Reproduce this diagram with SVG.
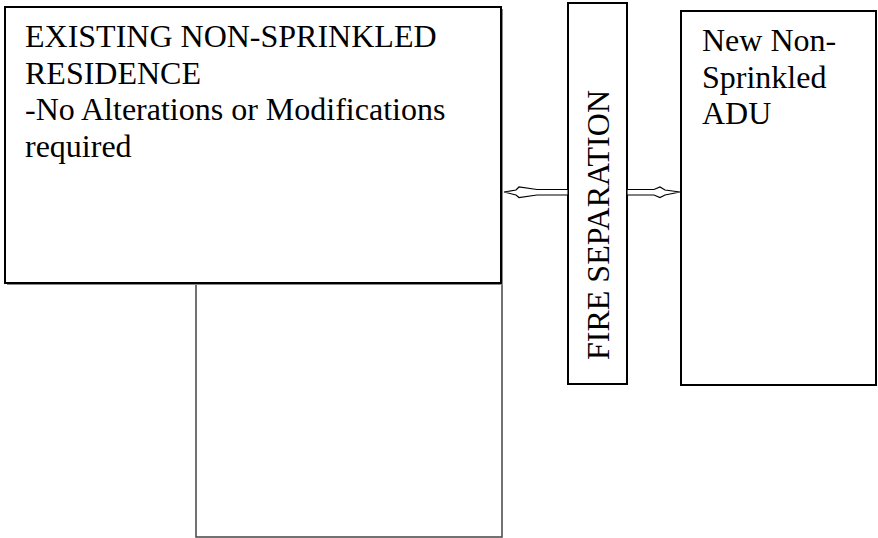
<svg xmlns="http://www.w3.org/2000/svg" width="878" height="538" viewBox="0 0 878 538">
<style>
.box{fill:#fff;stroke:#000;stroke-width:2}
.shadow{fill:#888;stroke:none}
.thin{fill:#fff;stroke:#444;stroke-width:1.5}
.t{font-size:32px;fill:#000}
.arr{fill:#fff;stroke:#000;stroke-width:1.2}
</style>
<rect width="878" height="538" fill="#fff"/>
<g font-family="'Times New Roman', 'Liberation Serif', 'DejaVu Serif', serif">
<g id="lower-box">
<rect class="thin" x="196" y="283" width="306" height="254"/>
</g>
<g id="existing-residence">
<rect class="shadow" x="7" y="9" width="496" height="276"/>
<rect class="box" x="5" y="7" width="496" height="276"/>
<text class="t" x="25" y="47">EXISTING NON-SPRINKLED</text>
<text class="t" x="25" y="83.5">RESIDENCE</text>
<text class="t" x="25" y="120">-No Alterations or Modifications</text>
<text class="t" x="25" y="156.5">required</text>
</g>
<g id="fire-separation">
<rect class="box" x="568" y="3" width="59" height="381"/>
<text class="t" text-anchor="middle" transform="translate(609,225) rotate(-90)">FIRE SEPARATION</text>
</g>
<g id="adu">
<rect class="box" x="681" y="11" width="195" height="374"/>
<text class="t" x="702" y="51">New Non-</text>
<text class="t" x="702" y="87.5">Sprinkled</text>
<text class="t" x="702" y="124">ADU</text>
</g>
</g>
<g id="connectors">
<polygon class="arr" points="504,192 516,190 519,187 537,189.5 568,189.5 568,195 537,195 519,197.5 516,195"/>
<polygon class="arr" points="627,189.5 654,189.5 660,187 665,190 680,192 665,195 660,197.5 654,195 627,195"/>
</g>
</svg>
